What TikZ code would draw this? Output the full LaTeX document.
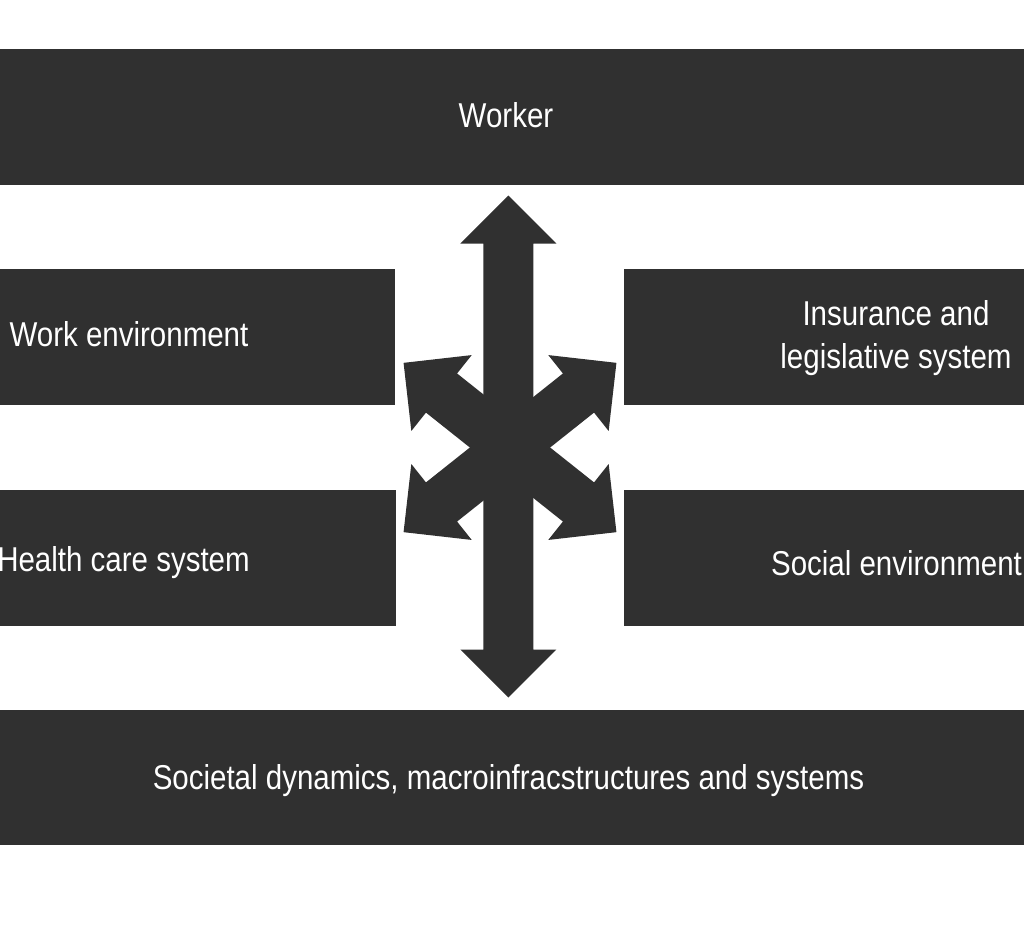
\documentclass[tikz,border=0pt]{standalone}
\usepackage{fontspec}
\setmainfont{Liberation Sans}[FakeStretch=0.855]
\usepackage{tikz}
\definecolor{barcol}{RGB}{48,48,48}

\begin{document}
\begin{tikzpicture}[x=0.5pt,y=-0.5pt,
  every node/.style={inner sep=0pt,text=white,font=\fontsize{17.25pt}{21.5pt}\selectfont},
  bar/.style={fill=barcol,draw=none}]
\useasboundingbox (0,0) rectangle (1024,939);
\fill[bar] (0,49) rectangle (1024,185);
\fill[bar] (0,269) rectangle (395,405);
\fill[bar] (624,269) rectangle (1024,405);
\fill[bar] (0,490) rectangle (396,626);
\fill[bar] (624,490) rectangle (1024,626);
\fill[bar] (0,710) rectangle (1024,845);
\fill[bar,shift={(508.3,446.5)}] (-25,-203) -- (-48,-203) -- (0,-251) -- (48,-203) -- (25,-203)
  -- (25,203) -- (48,203) -- (0,251) -- (-48,203) -- (-25,203) -- cycle;
\foreach \ang in {38.5,141.5,218.5,321.5}
  \fill[bar,shift={(510,447.5)},rotate=\ang] (0,-25) -- (87.5,-25) -- (87.5,-48.5) -- (136,0)
    -- (87.5,48.5) -- (87.5,25) -- (0,25) -- cycle;
\node[anchor=base] (worker) at (506,127.3) {Worker};
\node[anchor=base] (workenv) at (129,346) {Work environment};
\node[anchor=north,align=center] (insur) at (896,300.3) {Insurance and\\legislative system};
\node[anchor=base] (health) at (123.5,571.7) {Health care system};
\node[anchor=base] (social) at (896.5,575) {Social environment};
\node[anchor=base] (societal) at (508.5,789) {Societal dynamics, macroinfracstructures and systems};
\end{tikzpicture}
\end{document}
